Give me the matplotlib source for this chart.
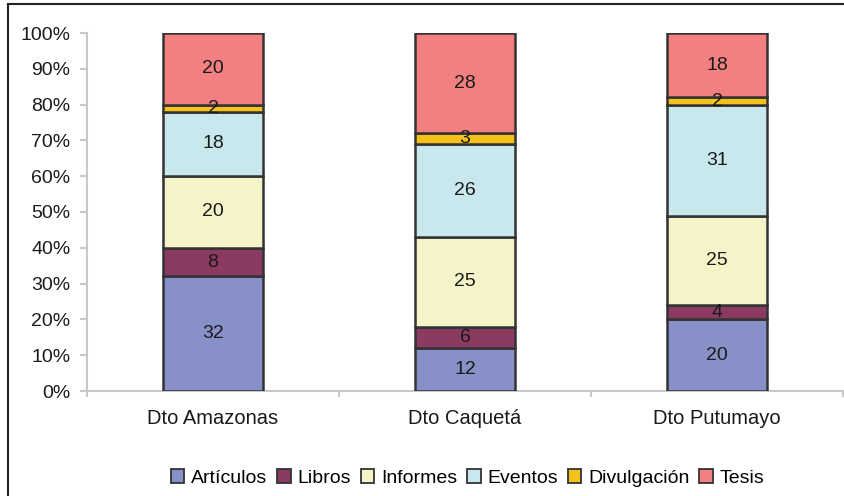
import matplotlib.pyplot as plt
from matplotlib.lines import Line2D
import numpy as np

plt.rcParams['font.family'] = ['Liberation Sans', 'DejaVu Sans']

regions = ["Dto Amazonas", "Dto Caquetá", "Dto Putumayo"]
series = ["Artículos", "Libros", "Informes", "Eventos", "Divulgación", "Tesis"]
articulos = [32, 12, 20]
libros = [8, 6, 4]
informes = [20, 25, 25]
eventos = [18, 26, 31]
divulgacion = [2, 3, 2]
tesis = [20, 28, 18]
colors = ["#8890c8", "#8b3a62", "#f5f3c8", "#c8e8ee", "#f5c21b", "#f28080"]
yticks = [0, 10, 20, 30, 40, 50, 60, 70, 80, 90, 100]


def main():
    values = np.array([articulos, libros, informes, eventos, divulgacion, tesis], dtype=float)
    pct = values / values.sum(axis=0) * 100

    fig = plt.figure(figsize=(8.44, 4.96), dpi=100)
    ax = fig.add_axes([87 / 844, 1 - 391 / 496, 756 / 844, 358 / 496])

    x = np.arange(len(regions))
    bottom = np.zeros(len(regions))
    for i, name in enumerate(series):
        ax.bar(x, pct[i], 0.4, bottom=bottom, color=colors[i], edgecolor="#333333",
               linewidth=1.8, label=name, zorder=3)
        for j in range(len(regions)):
            ax.text(x[j], bottom[j] + pct[i][j] / 2, "%d" % values[i][j],
                    ha="center", va="center", fontsize=14, color="#1a1a1a", zorder=4)
        bottom += pct[i]

    ax.set_xlim(-0.5, 2.5)
    ax.set_ylim(0, 100)
    ax.set_yticks(yticks)
    ax.set_yticklabels(["%d%%" % t for t in yticks], fontsize=14, color="#1a1a1a")
    ax.set_xticks([-0.5, 0.5, 1.5, 2.5])
    ax.set_xticklabels([])
    ax.set_xticks(x, minor=True)
    ax.set_xticklabels(regions, minor=True, fontsize=14.5, color="#1a1a1a")
    ax.tick_params(axis="x", which="minor", length=0, pad=13)
    ax.tick_params(axis="x", which="major", length=4, color="#c8c8c8", width=1.5)
    ax.tick_params(axis="y", length=5, color="#c8c8c8", width=1.5, pad=7)
    for s in ["top", "right"]:
        ax.spines[s].set_visible(False)
    for s in ["left", "bottom"]:
        ax.spines[s].set_color("#c8c8c8")
        ax.spines[s].set_linewidth(1.5)

    handles = [plt.Rectangle((0, 0), 1, 1, facecolor=c, edgecolor="#333333", linewidth=1.3)
               for c in colors]
    fig.legend(handles, series, loc="center", bbox_to_anchor=(0.554, 1 - 478 / 496), ncol=6,
               frameon=False, fontsize=14, handlelength=0.7, handleheight=0.7,
               handletextpad=0.35, columnspacing=0.5, borderaxespad=0)

    # frame around the picture (only top and left visible)
    fig.add_artist(Line2D([8 / 844, 1], [1 - 4 / 496, 1 - 4 / 496], color="#222222", linewidth=1.5))
    fig.add_artist(Line2D([8 / 844, 8 / 844], [0, 1 - 4 / 496], color="#222222", linewidth=1.5))

    fig.savefig("out.png", dpi=100)


if __name__ == '__main__':
    main()
